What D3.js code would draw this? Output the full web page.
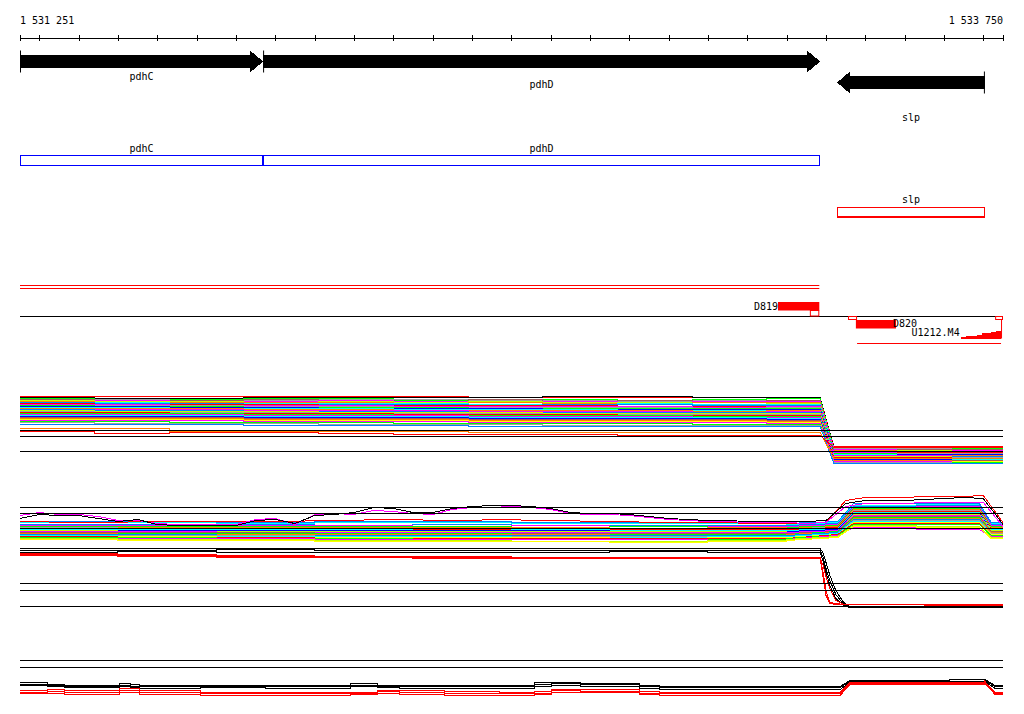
<!DOCTYPE html>
<html><head><meta charset="utf-8">
<script src="https://cdn.jsdelivr.net/npm/d3@7"></script>
<style>
body{margin:0;background:#fff;}
svg{display:block;}
text{font-family:"DejaVu Sans Mono",monospace;font-size:10px;fill:#000;}
</style>
</head><body><svg id="c" width="1024" height="714"></svg>
<script>
// ---------------- DATA ----------------
const START = 1531251, END = 1533750;
const tickBp = [1531251,1531300,1531400,1531500,1531600,1531700,1531800,1531900,1532000,1532100,1532200,1532300,1532400,1532500,1532600,1532700,1532800,1532900,1533000,1533100,1533200,1533300,1533400,1533500,1533600,1533700,1533750];
const endLabels = [1531251, 1533750];

const geneNames = ['pdhC','pdhD','slp'];
const geneStarts = [1531251, 1531869, 1533328];
const geneEnds = [1531869, 1533285, 1533704];
const geneStrands = [1, 1, -1];
const boxColors = ['#0000ff','#0000ff','#ff0000'];

// segment features
const featNames = ['D819','D820'];
const featStarts = [1533178, 1533376];
const featEnds = [1533283, 1533478];
const smallBoxStarts = [1533259, 1533356, 1533730];
const smallBoxEnds = [1533283, 1533379, 1533750];
const redPairStart = 1531251, redPairEnd = 1533283;
const u1212Start = 1533379, u1212End = 1533745;
const stairBp = [1533643,1533657,1533683,1533697,1533719,1533732,1533745];
const stairVal = [1,2,3,5,6,7,7];

// Track A (steps, drop)
const posA = [1531251,1531440,1531630,1531820,1532010,1532200,1532390,1532580,1532770,1532960,1533150,1533285,1533320,1533480,1533620,1533750];
const kindsA = 'ssssssssssslsss';
const seriesAColors = ['#ff0000','#000000','#00ff00','#a0a0a0','#a05a5a','#ff00ff','#c0ff00','#ff8000','#00ffff','#0080ff','#ff0000','#ff00ff','#a0a0a0','#00ff00','#0000ff','#00ffff','#ff8000','#ff00ff','#0080ff','#c0ff00','#a0a0a0','#ff0000','#00ff00','#ff00ff','#00ffff','#0000ff','#a05a5a','#ff8000','#ffff00','#ff00ff','#00ff00','#a0a0a0','#0080ff','#ff8000','#ff0000'];
const seriesALeft = [
[74,74,74,74,74,74,73,73,73,73,73],
[73,72,72,73,73,73,73,74,74,73,73],
[72,71,71,72,72,70,70,71,70,71,72],
[71,71,70,70,71,71,70,70,69,70,70],
[71,70,70,71,70,69,71,69,70,69,70],
[70,70,69,69,70,69,68,69,68,69,69],
[70,69,69,68,69,68,69,68,68,68,67],
[69,68,68,68,68,67,68,67,67,68,68],
[68,68,67,67,67,67,66,66,67,66,66],
[68,67,67,66,66,66,65,66,66,65,65],
[67,66,66,66,65,65,65,65,64,64,64],
[66,66,65,65,65,64,64,64,64,63,64],
[65,65,65,64,64,63,63,63,63,62,63],
[65,64,64,63,63,63,62,62,62,62,62],
[64,64,63,63,62,62,62,61,61,61,61],
[63,63,62,62,62,61,61,61,60,60,60],
[62,62,62,61,61,60,60,60,60,59,60],
[61,61,61,60,60,60,59,59,59,58,59],
[61,60,60,59,59,59,58,58,58,58,58],
[60,59,59,59,58,58,58,57,57,57,57],
[59,58,58,58,57,57,57,56,56,56,56],
[58,58,57,57,57,56,56,56,55,55,55],
[57,57,57,56,56,55,55,55,55,54,54],
[56,56,56,55,55,55,54,54,54,53,53],
[55,55,55,54,54,54,53,53,53,53,52],
[54,54,54,53,53,53,52,52,52,52,51],
[53,53,53,52,52,52,51,51,51,51,50],
[52,52,52,51,51,51,50,50,50,50,49],
[51,51,51,50,50,50,49,49,49,49,48],
[50,50,50,49,49,49,48,48,48,48,47],
[49,49,48,48,48,47,47,47,47,46,46],
[48,47,47,47,46,46,46,45,45,45,45],
[46,46,46,45,45,45,44,44,44,44,44],
[42,42,39,39,39,39,38,38,38,38,38],
[39,37,38,38,37,36,36,36,35,35,35]];
const seriesARight = [
[24,24,24],[23,23,23],[22,23,22],[22,22,21],[21,21,21],[21,20,20],[20,20,19],[20,19,19],[19,19,18],[19,18,18],
[18,18,18],[18,17,17],[17,17,17],[17,16,16],[16,16,16],[16,15,15],[15,15,15],[15,15,14],[14,14,14],[14,14,13],
[13,13,13],[13,13,12],[12,12,12],[12,12,11],[11,11,11],[11,11,10],[10,10,10],[10,10,9],[9,9,9],[9,9,8],
[8,8,8],[8,8,7],[7,7,7],[12,12,12],[23,23,23]];
const thresholdsA = [40, 34, 19];

// Track B (steps, rise, plateau, drop)
const posB = [1531251,1531500,1531750,1532000,1532250,1532500,1532750,1533000,1533200,1533330,1533370,1533530,1533690,1533720,1533750];
const kindsB = 'ssssssssllssls';
const seriesBColors = ['#00ffff','#0080ff','#ff00ff','#00ff00','#ff8000','#a0a0a0','#ff0000','#00ffff','#0000ff','#c0ff00','#ff00ff','#a05a5a','#00ff00','#ff8000','#0080ff','#a0a0a0','#00ffff','#ffff00','#ff0000','#00ff00','#ff00ff','#c0ff00','#0080ff','#ffff00'];
const seriesBVals = [
[38,38,37,38,38,37,37,37,36,38,55,56,37],
[36,36,36,35,36,35,35,35,35,37,54,55,36],
[35,35,35,35,34,35,34,34,34,36,53,54,35],
[34,34,34,34,34,33,34,33,33,35,52,52,34],
[33,33,33,33,33,33,32,33,32,34,51,51,33],
[33,32,32,32,32,32,32,32,32,33,50,50,32],
[32,32,32,31,31,31,31,31,31,33,49,49,32],
[31,31,31,31,30,31,30,30,30,32,48,48,31],
[30,30,30,30,30,30,29,29,29,31,47,47,30],
[30,29,29,29,29,29,29,29,28,30,46,46,30],
[29,29,28,28,28,28,28,28,28,30,45,45,29],
[28,28,28,27,27,27,27,27,27,29,44,44,29],
[27,27,27,27,27,26,26,26,26,29,43,43,28],
[27,26,26,26,26,26,25,25,26,28,42,42,28],
[26,26,25,25,25,25,25,25,25,28,41,41,27],
[25,25,25,24,24,24,24,24,24,27,40,40,27],
[25,24,24,24,24,23,23,24,24,27,39,39,26],
[24,24,23,23,23,23,22,23,23,26,38,38,26],
[24,23,23,22,22,22,22,22,22,26,37,37,25],
[23,23,22,22,21,21,21,21,22,25,36,36,25],
[22,22,22,21,21,21,21,20,21,25,33,31,24],
[22,21,21,20,20,19,19,20,21,24,35,34,23],
[39,39,38,39,39,38,38,38,37,39,57,57,38],
[21,20,20,19,19,19,18,19,20,23,34,33,22]];
const wiggleBColors = ['#ff0000','#ff00ff','#000000'];
const wiggleBVals = [
[39,39,38,38,38,38,39,39,39,39,39,39,39,39,39,40,40,40,41,41,41,40,40,40,41,41,40,40,40,39,39,39,38,38,38,38,38,37,37,37,37,38,60,63,63,63,64,64,64,65,38],
[45,48,46,46,44,40,40,37,36,36,36,36,41,42,36,46,47,46,50,49,47,46,51,53,53,54,53,51,47,46,46,45,43,41,40,39,39,38,38,38,37,38,54,57,57,57,58,58,58,58,34],
[42,46,45,45,42,39,41,36,35,35,35,35,40,41,37,45,46,48,53,52,48,48,52,54,55,55,54,52,48,47,47,46,44,42,41,40,40,39,39,39,39,40,57,60,60,60,61,62,63,62,36]];
const thresholdsB = [53, 47, 32];

// Track C
const posC = [1531251,1531500,1531750,1532000,1532250,1532500,1532750,1533000,1533285,1533292,1533300,1533310,1533325,1533345,1533360,1533550,1533750];
const kindsC = 'ssssssssllllllss';
const seriesCColors = ['#000000','#000000','#000000','#ff0000','#ff0000','#ff0000'];
const seriesCVals = [
[72,72,72,72,72,72,72,72,72,68,58,45,30,18,14,14],
[70,70,71,70,70,70,70,70,70,64,52,40,26,16,14,13],
[68,69,68,68,68,68,69,68,68,60,48,35,22,15,13,13],
[67,66,65,64,63,63,63,63,63,50,30,18,17,16,16,16],
[65,64,63,63,62,62,63,63,63,45,25,17,16,16,16,16],
[66,65,64,64,64,63,62,62,62,56,44,32,20,16,16,15]];
const thresholdsC = [37, 30, 14];

// Track D
const posD = [1531251,1531322,1531365,1531505,1531531,1531556,1531709,1531874,1532090,1532161,1532217,1532331,1532471,1532560,1532603,1532675,1532827,1532878,1533336,1533361,1533615,1533704,1533730,1533750];
const kindsD = 'sssssssssssssssssslssls';
const seriesDColors = ['#000000','#000000','#000000','#ff0000','#ff0000','#ff0000'];
const seriesDVals = [
[18,16,15,17,16,15,15,15,17,15,15,15,15,18,18,17,15,14,14,20,21,21,15,15],
[16,15,14,15,14,14,14,14,15,14,14,14,14,16,17,16,14,13,13,19,19,20,14,14],
[15,14,13,14,13,12,13,12,14,13,12,12,12,14,15,14,12,11,11,18,18,19,12,12],
[10,11,10,12,12,10,8,8,8,10,10,9,8,9,11,11,9,8,8,18,18,19,8,8],
[8,9,8,10,10,8,7,7,7,9,8,7,7,7,10,9,7,7,7,17,17,18,7,7],
[7,7,6,8,8,6,5,5,6,7,6,5,5,6,8,8,6,5,5,16,16,17,6,6]];
const thresholdsD = [40, 33];

// ---------------- DRAW ----------------
const svg = d3.select('#c');
const x = d3.scaleLinear().domain([START, END]).range([20, 1003]);
const fmt = d3.formatLocale({decimal:'.', thousands:' ', grouping:[3], currency:['','']}).format(',');

// axis
const axisG = svg.append('g').attr('transform','translate(0,35)')
  .call(d3.axisBottom(x).tickValues(tickBp).tickSize(6).tickSizeOuter(0).tickFormat(''));
axisG.select('.domain').remove();
axisG.selectAll('line').attr('stroke','#000').attr('shape-rendering','crispEdges');
svg.append('line').attr('x1',x(START)).attr('x2',x(END)).attr('y1',38.5).attr('y2',38.5)
  .attr('stroke','#000').attr('shape-rendering','crispEdges');
svg.selectAll('text.endlab').data(endLabels).enter().append('text')
  .attr('x',(d,i)=>x(d)).attr('y',24).attr('text-anchor',(d,i)=>i?'end':'start').text(d=>fmt(d));

// genes (arrows)
const rowCenter = [61.5, 61.5, 82.5];
const labelY = [80, 88, 121];
const bh = 6.5, hh = 11, hl = 13;
geneNames.forEach((g,i)=>{
  const xs = x(geneStarts[i]), xe = x(geneEnds[i]), yc = rowCenter[i];
  let p;
  if (geneStrands[i] > 0) {
    p = `M${xs},${yc-bh}L${xe-hl},${yc-bh}L${xe-hl},${yc-hh}L${xe},${yc}L${xe-hl},${yc+hh}L${xe-hl},${yc+bh}L${xs},${yc+bh}Z`;
    svg.append('line').attr('x1',xs+0.5).attr('x2',xs+0.5).attr('y1',yc-hh).attr('y2',yc+hh).attr('stroke','#000');
  } else {
    p = `M${xe},${yc-bh}L${xs+hl},${yc-bh}L${xs+hl},${yc-hh}L${xs},${yc}L${xs+hl},${yc+hh}L${xs+hl},${yc+bh}L${xe},${yc+bh}Z`;
    svg.append('line').attr('x1',xe-0.5).attr('x2',xe-0.5).attr('y1',yc-hh).attr('y2',yc+hh).attr('stroke','#000');
  }
  svg.append('path').attr('d',p).attr('fill','#000').attr('shape-rendering','crispEdges');
  svg.append('text').attr('x',(xs+xe)/2).attr('y',labelY[i]).attr('text-anchor','middle').text(g);
});

// gene boxes
const boxTop = [155.5, 155.5, 207.5], boxH = [10, 10, 9.5], boxLab = [152, 152, 203];
geneNames.forEach((g,i)=>{
  const xs = x(geneStarts[i]), xe = x(geneEnds[i]);
  svg.append('rect').attr('x',Math.round(xs)+0.5).attr('y',boxTop[i]).attr('width',Math.round(xe-xs)-1).attr('height',boxH[i])
    .attr('fill','none').attr('stroke',boxColors[i]).attr('stroke-width',1.3).attr('shape-rendering','crispEdges');
  svg.append('text').attr('x',(xs+xe)/2).attr('y',boxLab[i]).attr('text-anchor','middle').text(g);
});

// red pair lines
[285.5, 288.5].forEach(yy=>svg.append('line').attr('x1',x(redPairStart)).attr('x2',x(redPairEnd))
  .attr('y1',yy).attr('y2',yy).attr('stroke','#ff0000'));
// segment baseline
svg.append('line').attr('x1',x(START)).attr('x2',x(END)).attr('y1',316.5).attr('y2',316.5).attr('stroke','#000');
// D819/D820 bars
const featY = [302, 320];
featNames.forEach((f,i)=>{
  const xs = x(featStarts[i]), xe = x(featEnds[i]);
  svg.append('rect').attr('x',xs).attr('y',featY[i]).attr('width',xe-xs).attr('height',8.5).attr('fill','#ff0000');
  svg.append('text').attr('x', i ? xe-3 : xs).attr('y', i ? 327 : 310)
    .attr('text-anchor', i ? 'start' : 'end').text(f);
});
// small open boxes
const sbY = [310.5, 316.5, 316.5];
smallBoxStarts.forEach((s,i)=>{
  svg.append('rect').attr('x',x(s)+0.5).attr('y',sbY[i]).attr('width',x(smallBoxEnds[i])-x(s)-1).attr('height',i?3:5.5)
    .attr('fill','none').attr('stroke','#ff0000');
});
// U1212.M4
svg.append('text').attr('x',911.5).attr('y',336).text('U1212.M4');
const yS = d3.scaleLinear().domain([0,7]).range([338.5,331]);
svg.append('path').datum(stairBp.map((b,i)=>[b,stairVal[i]]))
  .attr('d', d3.area().curve(d3.curveStepAfter).x(d=>x(d[0])).y0(yS(0)).y1(d=>yS(d[1])))
  .attr('fill','#ff0000').attr('shape-rendering','crispEdges');
svg.append('line').attr('x1',x(u1212End)+0.5).attr('x2',x(u1212End)+0.5).attr('y1',319).attr('y2',338.5).attr('stroke','#ff0000');
svg.append('line').attr('x1',x(u1212Start)).attr('x2',x(u1212End)).attr('y1',343.5).attr('y2',343.5).attr('stroke','#ff0000');

// ---------- tracks ----------
function buildPts(pos, vals, kinds){
  const p = [];
  for (let i=0;i<pos.length-1;i++){
    p.push([pos[i], vals[i]]);
    if (kinds[i] === 's') p.push([pos[i+1], vals[i]]);
  }
  p.push([pos[pos.length-1], vals[pos.length-1]]);
  return p;
}
function drawSeries(g, y, pts, color){
  g.append('path').datum(pts)
    .attr('d', d3.line().x(d=>x(d[0])).y(d=>y(d[1])))
    .attr('fill','none').attr('stroke',color).attr('stroke-width',1).attr('shape-rendering','crispEdges');
}
function drawThresholds(g, y, th){
  th.forEach(t=>g.append('line').attr('x1',x(START)).attr('x2',x(END)).attr('y1',y(t)).attr('y2',y(t))
    .attr('stroke','#000').attr('stroke-width',1.2).attr('shape-rendering','crispEdges'));
}

// Track A
const yA = d3.scaleLinear().domain([0,80]).range([470.5,390.5]);
const gA = svg.append('g');
seriesALeft.forEach((L,i)=>{
  const R = seriesARight[i];
  const vals = [...L, L[L.length-1], R[0], R[1], R[2], R[2]];
  drawSeries(gA, yA, buildPts(posA, vals, kindsA), seriesAColors[i]);
});
drawThresholds(gA, yA, thresholdsA);

// Track B
const yB = d3.scaleLinear().domain([0,80]).range([560.5,480.5]);
const gB = svg.append('g');
seriesBVals.forEach((v,i)=>{
  const vals = [...v.slice(0,9), v[9], v[10], v[11], v[11], v[12], v[12]];
  drawSeries(gB, yB, buildPts(posB, vals, kindsB), seriesBColors[i]);
});
const gridBp = d3.range(0, 51).map(i => 1531250 + i*50);
wiggleBVals.forEach((v,i)=>{
  drawSeries(gB, yB, gridBp.map((b,j)=>[Math.min(Math.max(b,START),END), v[j]]), wiggleBColors[i]);
});
drawThresholds(gB, yB, thresholdsB);

// Track C
const yC = d3.scaleLinear().domain([0,80]).range([620.5,540.5]);
const gC = svg.append('g');
seriesCVals.forEach((v,i)=>{
  const vals = [...v, v[v.length-1]];
  drawSeries(gC, yC, buildPts(posC, vals, kindsC), seriesCColors[i]);
});
drawThresholds(gC, yC, thresholdsC);

// Track D
const yD = d3.scaleLinear().domain([0,40]).range([700.5,660.5]);
const gD = svg.append('g');
seriesDVals.forEach((v,i)=>{
  drawSeries(gD, yD, buildPts(posD, v, kindsD), seriesDColors[i]);
});
drawThresholds(gD, yD, thresholdsD);
</script>
</body></html>
